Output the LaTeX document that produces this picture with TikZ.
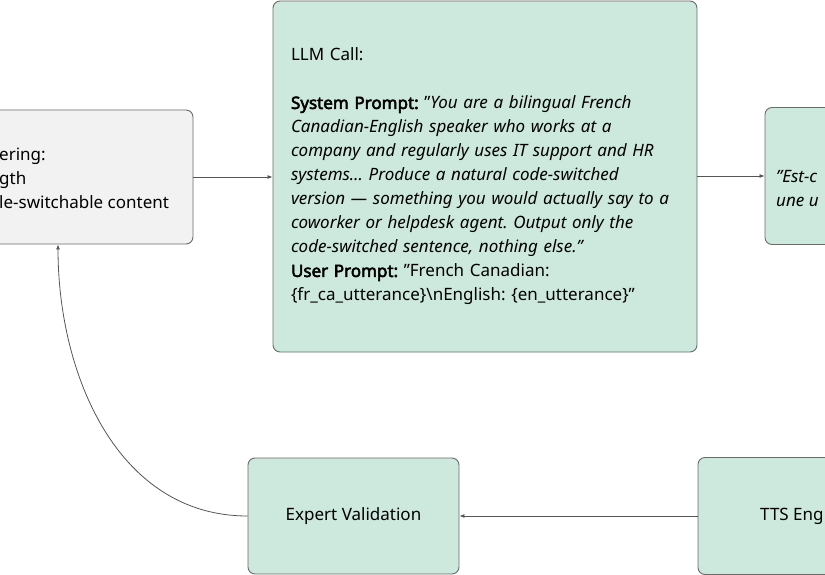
\documentclass[tikz,border=0pt]{standalone}
\usepackage{fontspec}
\setmainfont{Noto Sans}[AutoFakeBold=3]
\usetikzlibrary{arrows.meta,positioning}

\definecolor{mint}{HTML}{CDE8DC}
\definecolor{paleGrey}{HTML}{F2F2F2}
\definecolor{edgeGrey}{HTML}{6B6B6B}
\definecolor{linkGrey}{HTML}{555555}

\begin{document}
\begin{tikzpicture}[x=1pt, y=-1pt,
    block/.style={draw=edgeGrey, rounded corners=7pt, fill=mint, line width=0.9pt, font=\fontsize{17}{24}\selectfont\frenchspacing},
    greyblock/.style={block, fill=paleGrey},
    txt/.style={inner sep=0pt, align=left, font=\fontsize{17}{24}\selectfont},
    arrow/.style={-{Latex[length=5pt,width=4pt]}, linkGrey, line width=0.8pt}
  ]
    \useasboundingbox (0,0) rectangle (825,575);
    \clip (0,0) rectangle (825,575);

    \node[greyblock, minimum width=270pt, minimum height=134pt] (filt) at (58,177) {};
    \node[txt, anchor=west] (filttxt) at (-1,178) {ering:\\gth\\le-switchable content};

    \node[block, minimum width=424pt, minimum height=351pt, text width=388pt, inner xsep=18pt, align=left] (llm) at (485,176.5) {LLM Call:\\[24pt]
      \textbf{System Prompt:} "\textit{You are a bilingual French}\\
      \textit{Canadian-English speaker who works at a}\\
      \textit{company and regularly uses IT support and HR}\\
      \textit{systems\ldots{} Produce a natural code-switched}\\
      \textit{version --- something you would actually say to a}\\
      \textit{coworker or helpdesk agent. Output only the}\\
      \textit{code-switched sentence, nothing else."}\\
      \textbf{User Prompt:} "French Canadian:\\
      \{fr\_ca\_utterance\}\textbackslash nEnglish: \{en\_utterance\}"};

    \node[block, minimum width=211pt, minimum height=137pt] (cs) at (870.5,176) {};
    \node[txt, anchor=west, font=\fontsize{17}{24}\selectfont\itshape] (cstxt) at (776,189) {"Est-c\\une u};

    \node[block, minimum width=211pt, minimum height=116pt] (ev) at (353.5,516) {Expert Validation};
    \node[block, minimum width=211pt, minimum height=117pt] (tts) at (803.5,516) {};
    \node[txt, anchor=west] (ttstxt) at (760,516) {TTS Eng};

    \draw[arrow] (filt.east) -- (llm.west |- filt.east);
    \draw[arrow] (llm.east |- cs.west) -- (cs.west);
    \draw[arrow] (tts.west) -- (ev.east);
    \draw[arrow] (ev.west) .. controls +(-130,0) and +(0,130) .. (filt.south);
  \end{tikzpicture}
\end{document}
